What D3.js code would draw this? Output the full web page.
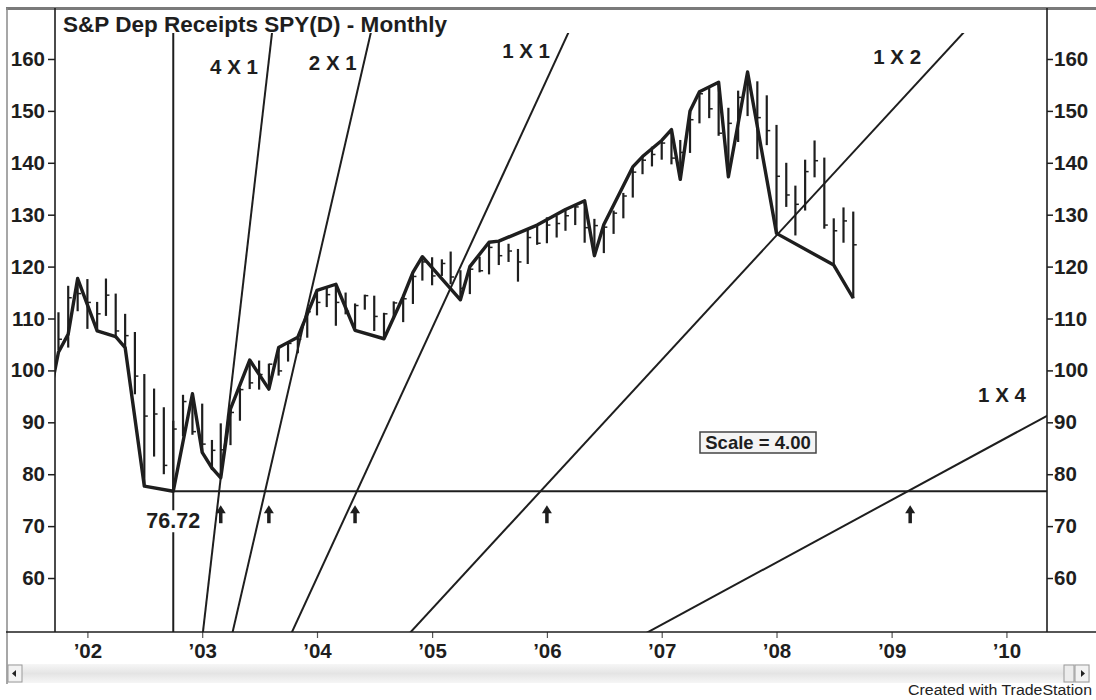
<!DOCTYPE html>
<html>
<head>
<meta charset="utf-8">
<script src="https://cdn.jsdelivr.net/npm/d3@7"></script>
<style>
  html, body { margin: 0; padding: 0; background: #fff; }
  svg { display: block; font-family: "Liberation Sans", Arial, Helvetica, sans-serif; }
</style>
</head>
<body>
<svg id="chart" width="1096" height="700"></svg>
<script>
// SPY monthly bars, Oct 2001 – Sep 2008
const months = [
  "2001-10","2001-11","2001-12",
  "2002-01","2002-02","2002-03","2002-04","2002-05","2002-06","2002-07","2002-08","2002-09","2002-10","2002-11","2002-12",
  "2003-01","2003-02","2003-03","2003-04","2003-05","2003-06","2003-07","2003-08","2003-09","2003-10","2003-11","2003-12",
  "2004-01","2004-02","2004-03","2004-04","2004-05","2004-06","2004-07","2004-08","2004-09","2004-10","2004-11","2004-12",
  "2005-01","2005-02","2005-03","2005-04","2005-05","2005-06","2005-07","2005-08","2005-09","2005-10","2005-11","2005-12",
  "2006-01","2006-02","2006-03","2006-04","2006-05","2006-06","2006-07","2006-08","2006-09","2006-10","2006-11","2006-12",
  "2007-01","2007-02","2007-03","2007-04","2007-05","2007-06","2007-07","2007-08","2007-09","2007-10","2007-11","2007-12",
  "2008-01","2008-02","2008-03","2008-04","2008-05","2008-06","2008-07","2008-08","2008-09"
];
const highs = [
  111.2, 116.3, 117.7,
  117.6, 113.2, 117.7, 114.8, 110.9, 107.4, 99.3, 96.5, 92.9, 90.3, 95.3, 95.6,
  93.6, 86.6, 89.8, 92.6, 96.6, 102.0, 101.9, 101.3, 104.4, 105.4, 106.4, 111.5,
  115.4, 116.0, 116.6, 115.0, 112.9, 114.6, 114.4, 111.1, 113.3, 114.2, 118.9, 121.9,
  121.8, 121.4, 122.9, 119.3, 120.0, 121.9, 124.7, 124.9, 124.4, 123.4, 127.1, 128.0,
  129.5, 129.8, 131.0, 131.8, 132.7, 129.2, 128.1, 130.8, 134.2, 139.2, 141.2, 143.1,
  144.3, 146.4, 144.4, 150.0, 153.7, 154.4, 155.5, 150.6, 153.9, 157.5, 155.7, 153.0,
  147.3, 140.0, 135.6, 140.6, 144.3, 141.0, 129.3, 131.4, 130.6
];
const lows = [
  103.9, 104.4, 111.4,
  108.0, 107.6, 110.5, 106.2, 104.3, 95.4, 77.7, 83.4, 80.0, 76.72, 87.3, 87.6,
  84.2, 80.8, 79.3, 85.6, 90.3, 96.4, 96.3, 96.4, 99.0, 101.7, 103.3, 106.3,
  110.6, 112.2, 108.6, 110.8, 107.7, 111.7, 107.6, 106.1, 110.0, 109.3, 112.8, 117.3,
  116.4, 118.2, 116.6, 113.6, 114.7, 118.9, 118.5, 120.3, 120.9, 117.1, 120.5, 124.2,
  124.5, 125.6, 126.9, 128.0, 124.6, 122.1, 122.6, 126.3, 129.3, 133.3, 137.8, 139.3,
  140.6, 139.7, 136.8, 141.9, 147.6, 148.6, 145.2, 137.3, 144.0, 149.0, 140.7, 143.4,
  126.4, 131.5, 126.0, 130.8, 137.2, 127.3, 120.3, 124.6, 113.9
];
const closes = [
  106.0, 114.0, 114.8,
  113.1, 110.9, 114.5, 107.6, 106.7, 98.9, 91.2, 91.6, 81.7, 88.7, 94.0, 88.2,
  85.8, 84.6, 84.7, 91.9, 96.3, 97.6, 99.2, 101.2, 99.9, 105.2, 106.0, 111.3,
  113.1, 114.6, 113.1, 111.4, 112.5, 114.4, 110.4, 110.9, 113.0, 113.8, 118.1, 120.9,
  118.2, 120.6, 118.0, 115.8, 119.5, 119.2, 123.7, 122.1, 123.0, 120.9, 125.6, 124.5,
  128.0, 128.3, 129.8, 131.5, 127.5, 127.9, 127.6, 130.3, 133.6, 138.2, 140.5, 141.6,
  143.8, 140.9, 142.0, 148.3, 153.3, 150.4, 145.7, 147.6, 152.6, 155.0, 148.7, 146.2,
  137.4, 133.8, 132.0, 138.3, 140.4, 128.0, 126.9, 128.8, 124.2
];

// Swing line turning points
const swingMonths = [
  "2001-09","2001-10","2001-11","2001-12","2002-02","2002-04","2002-05","2002-07","2002-10","2002-12",
  "2003-01","2003-02","2003-03","2003-04","2003-06","2003-08","2003-09","2003-10","2003-11",
  "2004-01","2004-03","2004-05","2004-08","2004-10","2004-11","2004-12",
  "2005-04","2005-05","2005-07","2005-08","2005-12",
  "2006-03","2006-05","2006-06","2006-07","2006-10","2006-11",
  "2007-01","2007-02","2007-03","2007-04","2007-05","2007-07","2007-08","2007-10",
  "2008-01","2008-07","2008-09"
];
const swingValues = [
  94.4, 103.5, 107.0, 117.7, 107.6, 106.5, 104.4, 77.7, 76.72, 95.5,
  84.2, 81.2, 79.3, 92.6, 102.0, 96.4, 104.4, 105.4, 106.4,
  115.4, 116.6, 107.7, 106.1, 114.2, 118.9, 121.9,
  113.6, 120.0, 124.7, 124.9, 128.0,
  131.0, 132.7, 122.1, 128.1, 139.2, 141.2,
  144.3, 146.4, 136.8, 150.0, 153.7, 155.5, 137.3, 157.5,
  126.4, 120.3, 113.9
];

// Major low used as the origin of time for the Gann angles
const lowMonth = "2002-10";
const lowValue = 76.72;
const scaleFactor = 4.00;

// Gann angles: price units per month (1 X 1 = scaleFactor)
const fanLabels = ["4 X 1", "2 X 1", "1 X 1", "1 X 2", "1 X 4"];
const fanSlopes = [16, 8, 4, 2, 1];
// First monthly bar at or after each angle reaches the low price
const arrowMonths = ["2003-03", "2003-08", "2004-05", "2006-01", "2009-03"];

const yTicks = [60, 70, 80, 90, 100, 110, 120, 130, 140, 150, 160];
const yearTicks = ["2002","2003","2004","2005","2006","2007","2008","2009","2010"];
const yearLabels = ["\u201902","\u201903","\u201904","\u201905","\u201906","\u201907","\u201908","\u201909","\u201910"];

const title = "S&P Dep Receipts SPY(D) - Monthly";

// ---------------------------------------------------------------
const parseMonth = d3.timeParse("%Y-%m");
const parseYear = d3.timeParse("%Y");
const svg = d3.select("#chart");
const ink = "#1e1e1e";

const plot = { left: 55, right: 1047, top: 9, bottom: 632, lineTop: 33 };

const x = d3.scaleTime()
  .domain([new Date(2001, 8, 20), new Date(2010, 4, 10)])
  .range([plot.left, plot.right]);
const y = d3.scaleLinear()
  .domain([49.6, 169.63])
  .range([plot.bottom, plot.top]);

svg.append("rect").attr("width", 1096).attr("height", 700).attr("fill", "#fff");

const defs = svg.append("defs");
defs.append("clipPath").attr("id", "plotClip")
  .append("rect")
  .attr("x", plot.left).attr("y", plot.top)
  .attr("width", plot.right - plot.left).attr("height", plot.bottom - plot.top);
defs.append("clipPath").attr("id", "lineClip")
  .append("rect")
  .attr("x", plot.left).attr("y", plot.lineTop)
  .attr("width", plot.right - plot.left).attr("height", plot.bottom - plot.lineTop);

// Window frame
svg.append("line").attr("x1", 6).attr("x2", 1096).attr("y1", 8.5).attr("y2", 8.5)
  .attr("stroke", "#7a7a7a").attr("stroke-width", 3);
svg.append("line").attr("x1", 7).attr("x2", 7).attr("y1", 8).attr("y2", 684)
  .attr("stroke", "#8a8a8a").attr("stroke-width", 1.5);

// Title
svg.append("text").attr("x", 63).attr("y", 32)
  .attr("font-size", 21.5).attr("font-weight", "bold").attr("fill", ink)
  .attr("textLength", 384).attr("lengthAdjust", "spacingAndGlyphs")
  .text(title);

// Monthly bars
const bars = months.map((m, i) => ({ date: parseMonth(m), high: highs[i], low: lows[i], close: closes[i] }));
const barG = svg.append("g").attr("clip-path", "url(#plotClip)");
barG.selectAll("line.bar").data(bars).join("line")
  .attr("class", "bar")
  .attr("x1", d => x(d.date)).attr("x2", d => x(d.date))
  .attr("y1", d => y(d.high)).attr("y2", d => y(d.low))
  .attr("stroke", ink).attr("stroke-width", 2.2);
barG.selectAll("line.close").data(bars).join("line")
  .attr("class", "close")
  .attr("x1", d => x(d.date)).attr("x2", d => x(d.date) + 3.5)
  .attr("y1", d => y(d.close)).attr("y2", d => y(d.close))
  .attr("stroke", ink).attr("stroke-width", 1.5);

// Swing line
const swing = swingMonths.map((m, i) => ({ date: parseMonth(m), value: swingValues[i] }));
svg.append("path")
  .attr("clip-path", "url(#plotClip)")
  .datum(swing)
  .attr("fill", "none").attr("stroke", ink).attr("stroke-width", 3.4)
  .attr("stroke-linejoin", "round")
  .attr("d", d3.line().x(d => x(d.date)).y(d => y(d.value)));

// Time of the low, and the low price carried forward
const low0 = parseMonth(lowMonth);
const guides = svg.append("g").attr("clip-path", "url(#lineClip)");
guides.append("line")
  .attr("x1", x(low0)).attr("x2", x(low0))
  .attr("y1", plot.lineTop).attr("y2", plot.bottom)
  .attr("stroke", ink).attr("stroke-width", 2);
guides.append("line")
  .attr("x1", x(low0)).attr("x2", plot.right)
  .attr("y1", y(lowValue)).attr("y2", y(lowValue))
  .attr("stroke", ink).attr("stroke-width", 2);

// Gann angles start at zero price at the time of the low
const spanMonths = 120;
const fans = fanSlopes.map((s, i) => ({
  label: fanLabels[i],
  slope: s,
  p0: { date: low0, value: 0 },
  p1: { date: d3.timeMonth.offset(low0, spanMonths), value: s * spanMonths }
}));
guides.selectAll("line.fan").data(fans).join("line")
  .attr("class", "fan")
  .attr("x1", d => x(d.p0.date)).attr("y1", d => y(d.p0.value))
  .attr("x2", d => x(d.p1.date)).attr("y2", d => y(d.p1.value))
  .attr("stroke", ink).attr("stroke-width", 2);

// x pixel on an angle for a given price
function fanX(f, price) {
  const x0 = x(f.p0.date), x1 = x(f.p1.date);
  return x0 + (x1 - x0) * (price - f.p0.value) / (f.p1.value - f.p0.value);
}
// Angle labels: price at which each label sits and its horizontal offset from the angle
const labelPlace = [
  { price: 158.4, dx: -34 }, { price: 159.2, dx: -31 }, { price: 161.6, dx: -34 },
  { price: 160.4, dx: -44 }, { price: 95.2, dx: 0 }
];
svg.selectAll("text.fan").data(fans).join("text")
  .attr("class", "fan")
  .attr("x", (d, i) => i === 4 ? 1002 : fanX(d, labelPlace[i].price) + labelPlace[i].dx)
  .attr("y", (d, i) => y(labelPlace[i].price) + 7)
  .attr("text-anchor", "middle")
  .attr("font-size", 20.5).attr("font-weight", "bold").attr("fill", ink)
  .text(d => d.label);

// Arrows under the low line where each angle reaches it
const arrowG = svg.append("g");
arrowMonths.forEach(m => {
  const ax = x(parseMonth(m));
  const ay = y(lowValue) + 14;
  arrowG.append("path")
    .attr("d", `M${ax},${ay} L${ax - 5},${ay + 8} L${ax + 5},${ay + 8} Z`)
    .attr("fill", ink);
  arrowG.append("line")
    .attr("x1", ax).attr("x2", ax).attr("y1", ay + 6).attr("y2", ay + 18)
    .attr("stroke", ink).attr("stroke-width", 3.5);
});

// Low price label, set on a white patch over the time line
const lowLabel = svg.append("g");
lowLabel.append("rect")
  .attr("x", x(low0) - 28).attr("y", y(lowValue) + 19)
  .attr("width", 56).attr("height", 22).attr("fill", "#fff");
lowLabel.append("text")
  .attr("x", x(low0)).attr("y", y(lowValue) + 37)
  .attr("text-anchor", "middle")
  .attr("font-size", 21.5).attr("font-weight", "bold").attr("fill", ink)
  .text(lowValue.toFixed(2));

// Scale box
const scaleG = svg.append("g");
scaleG.append("rect")
  .attr("x", 700).attr("y", 432).attr("width", 116).attr("height", 21)
  .attr("fill", "#f4f4f4").attr("stroke", "#444").attr("stroke-width", 1.5);
scaleG.append("text")
  .attr("x", 758).attr("y", 449).attr("text-anchor", "middle")
  .attr("font-size", 18.5).attr("font-weight", "bold").attr("fill", ink)
  .text("Scale = " + scaleFactor.toFixed(2));

// Price axes, both sides
const leftAxis = d3.axisLeft(y).tickValues(yTicks).tickSize(7).tickPadding(3).tickFormat(d3.format("d"));
const rightAxis = d3.axisRight(y).tickValues(yTicks).tickSize(6).tickPadding(1).tickFormat(d3.format("d"));
function styleAxis(g) {
  g.select(".domain").remove();
  g.selectAll(".tick line").attr("stroke", ink).attr("stroke-width", 1.5);
  g.selectAll(".tick text").attr("fill", ink).attr("font-size", 20.5).attr("font-weight", "bold")
    .attr("font-family", "'Liberation Sans', Arial, sans-serif");
}
svg.append("g").attr("transform", `translate(${plot.left},0)`).call(leftAxis).call(styleAxis);
svg.append("g").attr("transform", `translate(${plot.right},0)`).call(rightAxis).call(styleAxis);
[plot.left, plot.right].forEach(px => {
  svg.append("line").attr("x1", px).attr("x2", px).attr("y1", 8).attr("y2", plot.bottom)
    .attr("stroke", ink).attr("stroke-width", 1.6);
});

// Time axis
const bottomAxis = d3.axisBottom(x)
  .tickValues(yearTicks.map(parseYear))
  .tickSize(6).tickPadding(5)
  .tickFormat((d, i) => yearLabels[i]);
svg.append("g").attr("transform", `translate(0,${plot.bottom})`).call(bottomAxis)
  .call(g => {
    g.select(".domain").remove();
    g.selectAll(".tick line").attr("stroke", "#555").attr("stroke-width", 1.2);
    g.selectAll(".tick text").attr("fill", ink).attr("font-size", 20.5).attr("font-weight", "bold")
      .attr("font-family", "'Liberation Sans', Arial, sans-serif");
  });
svg.append("line").attr("x1", 6).attr("x2", 1096).attr("y1", plot.bottom).attr("y2", plot.bottom)
  .attr("stroke", ink).attr("stroke-width", 1.6);

// Scroll bar
const sb = svg.append("g");
const grad = defs.append("linearGradient").attr("id", "sbGrad").attr("x1", 0).attr("x2", 0).attr("y1", 0).attr("y2", 1);
grad.append("stop").attr("offset", "0%").attr("stop-color", "#f6f6f6");
grad.append("stop").attr("offset", "50%").attr("stop-color", "#e4e4e4");
grad.append("stop").attr("offset", "100%").attr("stop-color", "#f6f6f6");
sb.append("rect").attr("x", 8).attr("y", 664).attr("width", 1082).attr("height", 19).attr("fill", "url(#sbGrad)");
sb.append("rect").attr("x", 8).attr("y", 665).attr("width", 14).attr("height", 17)
  .attr("fill", "#f2f2f2").attr("stroke", "#9a9a9a");
sb.append("path").attr("d", "M12,673.5 L16,670 L16,677 Z").attr("fill", "#222");
sb.append("rect").attr("x", 1064).attr("y", 665).attr("width", 10).attr("height", 17)
  .attr("fill", "#ececec").attr("stroke", "#9a9a9a");
sb.append("rect").attr("x", 1075).attr("y", 665).attr("width", 14).attr("height", 17)
  .attr("fill", "#f2f2f2").attr("stroke", "#9a9a9a");
sb.append("path").attr("d", "M1085,673.5 L1081,670 L1081,677 Z").attr("fill", "#222");

// Credit line
svg.append("text").attr("x", 1092).attr("y", 695).attr("text-anchor", "end")
  .attr("font-size", 15.5).attr("fill", "#222")
  .attr("textLength", 184).attr("lengthAdjust", "spacingAndGlyphs")
  .text("Created with TradeStation");
</script>
</body>
</html>
